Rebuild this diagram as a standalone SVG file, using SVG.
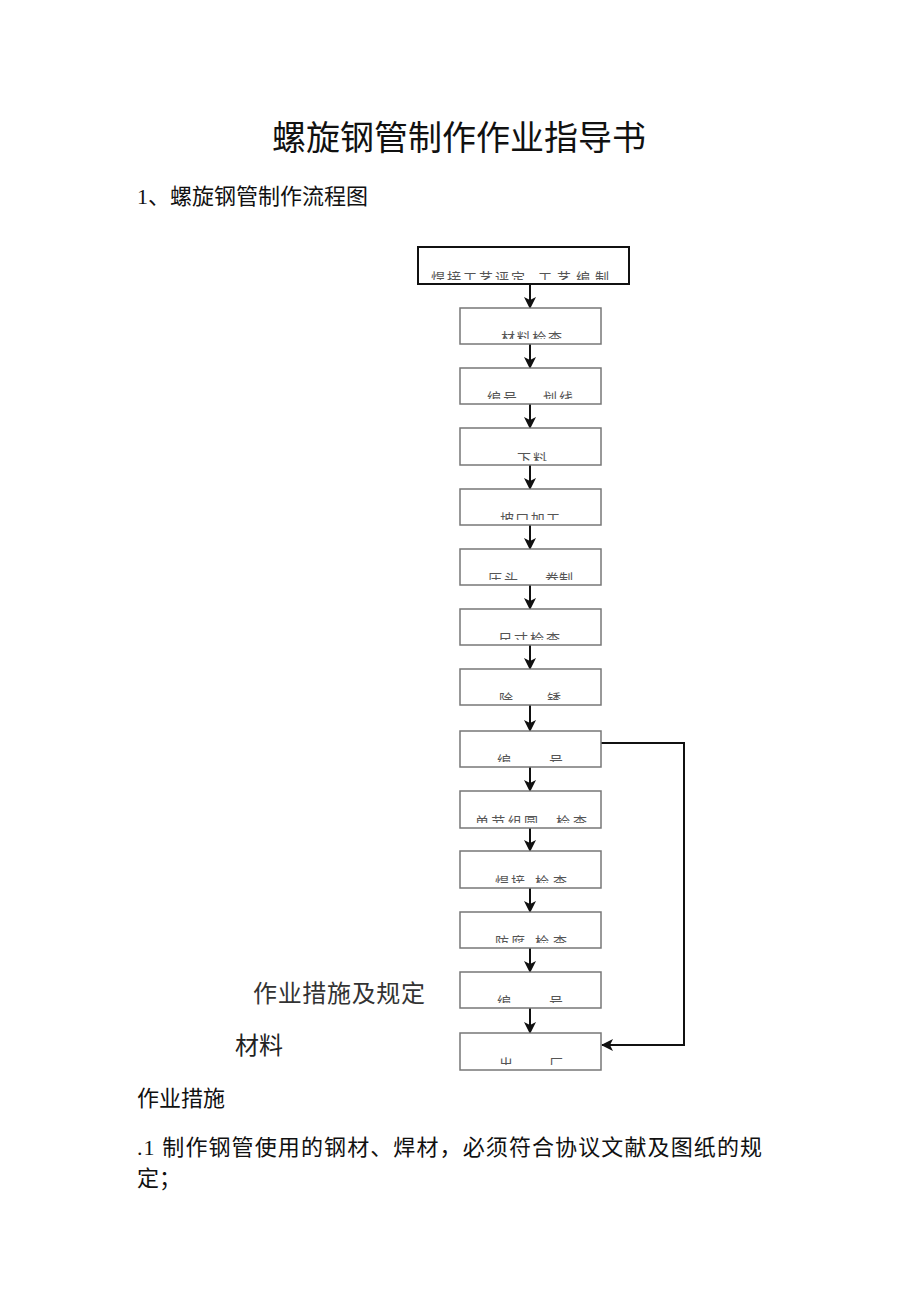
<svg xmlns="http://www.w3.org/2000/svg" width="920" height="1301" viewBox="0 0 920 1301">
<style>
.t{font-family:"Liberation Serif","Noto Sans CJK SC",serif;fill:#111}
.bx{fill:#fff;stroke:#777;stroke-width:1.5}
.bt{font-family:"Noto Sans CJK SC",sans-serif;font-size:14px;fill:#555}
.ln{stroke:#111;stroke-width:2;fill:none}
</style>
<defs>
<marker id="ah" markerWidth="12" markerHeight="12" refX="11" refY="6" orient="auto" markerUnits="userSpaceOnUse">
<path d="M0,0 L12,6 L0,12 L3,6 Z" fill="#111"/>
</marker>
<clipPath id="c1"><rect x="418" y="247" width="211" height="33"/></clipPath>
<clipPath id="c2"><rect x="460" y="308" width="141" height="31"/></clipPath>
<clipPath id="c3"><rect x="460" y="368" width="141" height="31"/></clipPath>
<clipPath id="c4"><rect x="460" y="428" width="141" height="33"/></clipPath>
<clipPath id="c5"><rect x="460" y="489" width="141" height="31"/></clipPath>
<clipPath id="c6"><rect x="460" y="549" width="141" height="31"/></clipPath>
<clipPath id="c7"><rect x="460" y="609" width="141" height="31"/></clipPath>
<clipPath id="c8"><rect x="460" y="669" width="141" height="31"/></clipPath>
<clipPath id="c9"><rect x="460" y="731" width="141" height="31"/></clipPath>
<clipPath id="c10"><rect x="460" y="791" width="141" height="32"/></clipPath>
<clipPath id="c11"><rect x="460" y="851" width="141" height="32"/></clipPath>
<clipPath id="c12"><rect x="460" y="912" width="141" height="31"/></clipPath>
<clipPath id="c13"><rect x="460" y="972" width="141" height="31"/></clipPath>
<clipPath id="c14"><rect x="460" y="1033" width="141" height="32"/></clipPath>
</defs>
<rect width="920" height="1301" fill="#fff"/>
<text class="t" x="459" y="150" font-size="34" text-anchor="middle">螺旋钢管制作作业指导书</text>
<text class="t" x="137" y="204" font-size="22">1、螺旋钢管制作流程图</text>

<g id="connectors">
<line class="ln" x1="530" y1="284" x2="530" y2="308" marker-end="url(#ah)"/>
<line class="ln" x1="530" y1="344" x2="530" y2="368" marker-end="url(#ah)"/>
<line class="ln" x1="530" y1="404" x2="530" y2="428" marker-end="url(#ah)"/>
<line class="ln" x1="530" y1="465" x2="530" y2="489" marker-end="url(#ah)"/>
<line class="ln" x1="530" y1="525" x2="530" y2="549" marker-end="url(#ah)"/>
<line class="ln" x1="530" y1="585" x2="530" y2="609" marker-end="url(#ah)"/>
<line class="ln" x1="530" y1="645" x2="530" y2="669" marker-end="url(#ah)"/>
<line class="ln" x1="530" y1="705" x2="530" y2="731" marker-end="url(#ah)"/>
<line class="ln" x1="530" y1="767" x2="530" y2="791" marker-end="url(#ah)"/>
<line class="ln" x1="530" y1="828" x2="530" y2="851" marker-end="url(#ah)"/>
<line class="ln" x1="530" y1="888" x2="530" y2="912" marker-end="url(#ah)"/>
<line class="ln" x1="530" y1="948" x2="530" y2="972" marker-end="url(#ah)"/>
<line class="ln" x1="530" y1="1008" x2="530" y2="1033" marker-end="url(#ah)"/>
<polyline class="ln" points="601,743 684,743 684,1045 602,1045" stroke="#333" marker-end="url(#ah)"/>
</g>

<g id="n1"><rect x="418" y="247" width="211" height="37" fill="#fff" stroke="#111" stroke-width="2"/>
<g clip-path="url(#c1)"><text class="bt" x="431" y="283" font-size="15" textLength="94">焊接工艺评定</text><text class="bt" x="538" y="283" font-size="15" textLength="71">工艺编制</text></g></g>
<g id="n2"><rect class="bx" x="460" y="308" width="141" height="36"/>
<g clip-path="url(#c2)"><text class="bt" x="501" y="343" textLength="61">材料检查</text></g></g>
<g id="n3"><rect class="bx" x="460" y="368" width="141" height="36"/>
<g clip-path="url(#c3)"><text class="bt" x="487" y="403" textLength="30">编号</text><text class="bt" x="543" y="403" textLength="30">划线</text></g></g>
<g id="n4"><rect class="bx" x="460" y="428" width="141" height="37"/>
<g clip-path="url(#c4)"><text class="bt" x="517" y="464" textLength="30">下料</text></g></g>
<g id="n5"><rect class="bx" x="460" y="489" width="141" height="36"/>
<g clip-path="url(#c5)"><text class="bt" x="500" y="524" textLength="60">坡口加工</text></g></g>
<g id="n6"><rect class="bx" x="460" y="549" width="141" height="36"/>
<g clip-path="url(#c6)"><text class="bt" x="488" y="584" textLength="30">压头</text><text class="bt" x="545" y="584" textLength="28">卷制</text></g></g>
<g id="n7"><rect class="bx" x="460" y="609" width="141" height="36"/>
<g clip-path="url(#c7)"><text class="bt" x="498" y="644" textLength="62">尺寸检查</text></g></g>
<g id="n8"><rect class="bx" x="460" y="669" width="141" height="36"/>
<g clip-path="url(#c8)"><text class="bt" x="499" y="704">除</text><text class="bt" x="547" y="704">锈</text></g></g>
<g id="n9"><rect class="bx" x="460" y="731" width="141" height="36"/>
<g clip-path="url(#c9)"><text class="bt" x="497" y="766">编</text><text class="bt" x="549" y="766">号</text></g></g>
<g id="n10"><rect class="bx" x="460" y="791" width="141" height="37"/>
<g clip-path="url(#c10)"><text class="bt" x="475" y="827" textLength="63">单节组圆</text><text class="bt" x="556" y="827" textLength="31">检查</text></g></g>
<g id="n11"><rect class="bx" x="460" y="851" width="141" height="37"/>
<g clip-path="url(#c11)"><text class="bt" x="495" y="887" textLength="30">焊接</text><text class="bt" x="535" y="887" textLength="32">检查</text></g></g>
<g id="n12"><rect class="bx" x="460" y="912" width="141" height="36"/>
<g clip-path="url(#c12)"><text class="bt" x="495" y="947" textLength="30">防腐</text><text class="bt" x="535" y="947" textLength="32">检查</text></g></g>
<g id="n13"><rect class="bx" x="460" y="972" width="141" height="36"/>
<g clip-path="url(#c13)"><text class="bt" x="497" y="1007">编</text><text class="bt" x="549" y="1007">号</text></g></g>
<g id="n14"><rect class="bx" x="460" y="1033" width="141" height="37"/>
<g clip-path="url(#c14)"><text class="bt" x="499" y="1069">出</text><text class="bt" x="549" y="1069">厂</text></g></g>

<text x="253" y="1002" font-family="Noto Sans CJK SC,sans-serif" font-size="24" fill="#333" textLength="172">作业措施及规定</text>
<text x="235" y="1054" font-family="Noto Sans CJK SC,sans-serif" font-size="24" fill="#222">材料</text>
<text class="t" x="137" y="1106" font-size="22">作业措施</text>
<text class="t" x="137" y="1155" font-size="22" textLength="625">.1 制作钢管使用的钢材、焊材，必须符合协议文献及图纸的规</text>
<text class="t" x="137" y="1186" font-size="22">定；</text>
</svg>
